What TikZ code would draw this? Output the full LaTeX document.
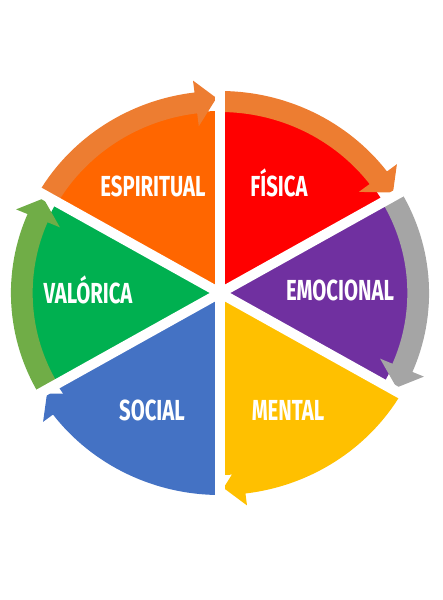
\documentclass[tikz,border=0pt]{standalone}
\usepackage{fontspec}
\newfontfamily\wheelfont[FakeStretch=0.7]{Fira Sans}
\usepackage{tikz}
\definecolor{espiritual}{HTML}{FF6600}
\definecolor{fisica}{HTML}{FF0000}
\definecolor{emocional}{HTML}{7030A0}
\definecolor{mental}{HTML}{FFC000}
\definecolor{social}{HTML}{4472C4}
\definecolor{valorica}{HTML}{00B050}
\definecolor{band orange}{HTML}{ED7D31}
\definecolor{band gray}{HTML}{A5A5A5}
\definecolor{band green}{HTML}{70AD47}
\tikzset{wheel label/.style={text=white, anchor=base,
    font={\wheelfont\bfseries\fontsize{29}{30}\selectfont}}}
\tikzset{gap line/.style={draw=white, line width=10pt}}
\newcommand{\rinner}{181}
\newcommand{\router}{202}
\newcommand{\rmiddle}{195}
% #1 = clockwise end angle, #2 = slice colour, #3 = arrow band colour
\newcommand{\wheelpart}[3]{
  \fill [#2] (0,0) -- (#1:\rinner+1)
    arc [start angle=#1, end angle=#1+60, radius=\rinner+1] -- cycle;
  \fill [#3] (#1+7:\rinner)
    arc [start angle=#1+7, end angle=#1+60, radius=\rinner]
    -- (#1+60:\router)
    arc [start angle=#1+60, end angle=#1+7, radius=\router]
    -- (#1+7:\router+12) -- (#1+1:\rmiddle) -- (#1+7:\rinner-13) -- cycle;
}

\begin{document}
\begin{tikzpicture}[x=1pt, y=1pt]
  \useasboundingbox (-220,-307) rectangle (222,293);

  \begin{scope}[xscale=1.035]
    \wheelpart{90}{espiritual}{band orange}
    \wheelpart{30}{fisica}{band orange}
    \wheelpart{-30}{emocional}{band gray}
    \wheelpart{270}{mental}{mental}
    \wheelpart{210}{social}{social}
    \wheelpart{150}{valorica}{band green}

    \foreach \a in {30,90,...,330}
      \draw [gap line] (0,0) -- (\a:240);
  \end{scope}

  \node [wheel label] (espiritual) at ( -67,   96) {ESPIRITUAL};
  \node [wheel label] (fisica)     at (  59,   96) {FÍSICA};
  \node [wheel label] (emocional)  at ( 120,   -7) {EMOCIONAL};
  \node [wheel label] (valorica)   at (-132,  -10) {VALÓRICA};
  \node [wheel label] (social)     at ( -68, -127) {SOCIAL};
  \node [wheel label] (mental)     at (  68, -127) {MENTAL};
\end{tikzpicture}
\end{document}
